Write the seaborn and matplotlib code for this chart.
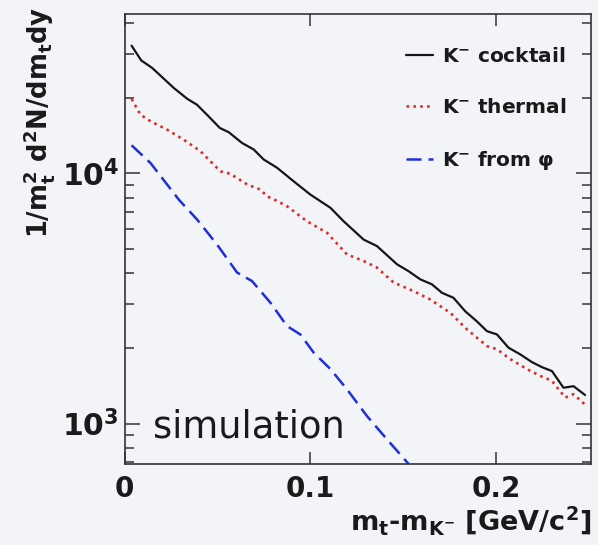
import numpy as np
import pandas as pd
import seaborn as sns
import matplotlib
matplotlib.use("Agg")
import matplotlib.pyplot as plt
from matplotlib.ticker import LogLocator, FixedLocator, NullLocator, LogFormatterSciNotation

# ---- data ----
x_cocktail = [0.0038, 0.009, 0.0149, 0.0265, 0.0337, 0.039, 0.0453, 0.0513, 0.0561, 0.0633,
              0.0695, 0.0749, 0.0821, 0.091, 0.1, 0.1108, 0.1179, 0.1287, 0.1358, 0.1466,
              0.1529, 0.1591, 0.1654, 0.1708, 0.177, 0.1833, 0.1896, 0.195, 0.2004, 0.2066,
              0.2129, 0.2192, 0.2246, 0.23, 0.2362, 0.2416, 0.2478]
y_cocktail = [32360, 28250, 26360, 21930, 19860, 18790, 16870, 15170, 14590, 13210,
              12450, 11350, 10520, 9290, 8220, 7280, 6430, 5430, 5120, 4330,
              4060, 3770, 3600, 3330, 3180, 2810, 2560, 2340, 2270, 2010,
              1890, 1760, 1680, 1620, 1390, 1410, 1300]

x_thermal = [0.0038, 0.0086, 0.014, 0.023, 0.0319, 0.0409, 0.0462, 0.0516, 0.057, 0.066,
             0.0731, 0.0767, 0.082, 0.0875, 0.0982, 0.109, 0.1197, 0.1287, 0.1358, 0.1448,
             0.1556, 0.1645, 0.1753, 0.1842, 0.195, 0.2004, 0.2075, 0.2165, 0.2237, 0.23,
             0.2371, 0.2416, 0.2478]
y_thermal = [19820, 17140, 16140, 14930, 13610, 12250, 11170, 10190, 9950, 9020,
             8610, 8090, 7760, 7380, 6430, 5780, 4740, 4460, 4200, 3660,
             3380, 3130, 2770, 2380, 2040, 1980, 1810, 1650, 1550, 1480,
             1270, 1310, 1190]

x_phi = [0.0038, 0.014, 0.0292, 0.0391, 0.0498, 0.0606, 0.0686, 0.0785, 0.0875, 0.0946,
         0.1018, 0.1108, 0.1197, 0.1305, 0.1412, 0.1529]
y_phi = [12940, 10990, 7850, 6530, 5190, 4010, 3710, 3040, 2450, 2270,
         1920, 1650, 1370, 1070, 865, 689]

series_labels = ["K$^{-}$ cocktail", "K$^{-}$ thermal", "K$^{-}$ from φ"]
x_ticks = [0, 0.1, 0.2]
x_tick_labels = ["0", "0.1", "0.2"]

# ---- style ----
sns.set_theme(style="ticks")
bg = "#f3f4f8"
plt.rcParams.update({
    "font.family": ["DejaVu Sans"],
    "font.weight": "bold",
    "mathtext.default": "regular",
    "axes.facecolor": bg,
    "figure.facecolor": bg,
    "savefig.facecolor": bg,
    "axes.edgecolor": "#333333",
    "axes.linewidth": 1.2,
    "xtick.color": "#333333",
    "ytick.color": "#333333",
    "xtick.labelcolor": "#1a1a1a",
    "ytick.labelcolor": "#1a1a1a",
})

fig = plt.figure(figsize=(5.98, 5.45), dpi=100)
ax = fig.add_axes([0.2082, 0.1486, 0.7801, 0.8266])

sns.lineplot(x=x_cocktail, y=y_cocktail, ax=ax, color="#151515", lw=1.6,
             label=series_labels[0], sort=False, estimator=None)
sns.lineplot(x=x_thermal, y=y_thermal, ax=ax, color="#e02a2a", lw=1.9,
             linestyle=(0, (1, 1.6)), label=series_labels[1], sort=False, estimator=None)
sns.lineplot(x=x_phi, y=y_phi, ax=ax, color="#1f2fd8", lw=1.8,
             linestyle=(0, (6, 2.8)), label=series_labels[2], sort=False, estimator=None)

ax.set_yscale("log")
ax.set_xlim(0, 0.251)
ax.set_ylim(689, 43500)

ax.xaxis.set_major_locator(FixedLocator(x_ticks))
ax.set_xticklabels(x_tick_labels)
ax.xaxis.set_minor_locator(NullLocator())
ax.yaxis.set_major_locator(LogLocator(base=10, numticks=10))
ax.yaxis.set_minor_locator(LogLocator(base=10, subs=np.arange(2, 10), numticks=20))
ax.yaxis.set_major_formatter(LogFormatterSciNotation())
ax.yaxis.set_minor_formatter(plt.NullFormatter())

ax.tick_params(which="both", direction="in", top=True, right=True, width=1.1)
ax.tick_params(axis="x", which="major", length=8.5, pad=8, labelsize=20)
ax.tick_params(axis="y", which="major", length=11, pad=4, labelsize=21.5)
ax.tick_params(axis="y", which="minor", length=6.5)

ax.set_xlabel("m$_{t}$-m$_{K^{-}}$ [GeV/c$^{2}$]", fontsize=19.5, fontweight="bold",
              color="#1a1a1a", ha="right")
ax.xaxis.set_label_coords(1.0, -0.125)
ax.xaxis.label.set_va("center")
ax.set_ylabel("1/m$_{t}^{2}$ d$^{2}$N/dm$_{t}$dy", fontsize=18.5, fontweight="bold",
              color="#1a1a1a")
ax.yaxis.set_label_coords(-0.183, 0.758)
ax.yaxis.label.set_va("center")
ax.yaxis.label.set_ha("center")

ax.text(0.0156, 965, "simulation", fontsize=26.5, fontweight="normal",
        color="#1a1a1a", va="center", ha="left")

leg = ax.legend(loc="upper right", bbox_to_anchor=(0.965, 0.944), frameon=False,
                fontsize=14.5, handlelength=1.35, handletextpad=0.45,
                labelspacing=1.6, borderaxespad=0)
for t in leg.get_texts():
    t.set_fontweight("bold")
    t.set_color("#1a1a1a")

fig.savefig("out.png", dpi=100)
